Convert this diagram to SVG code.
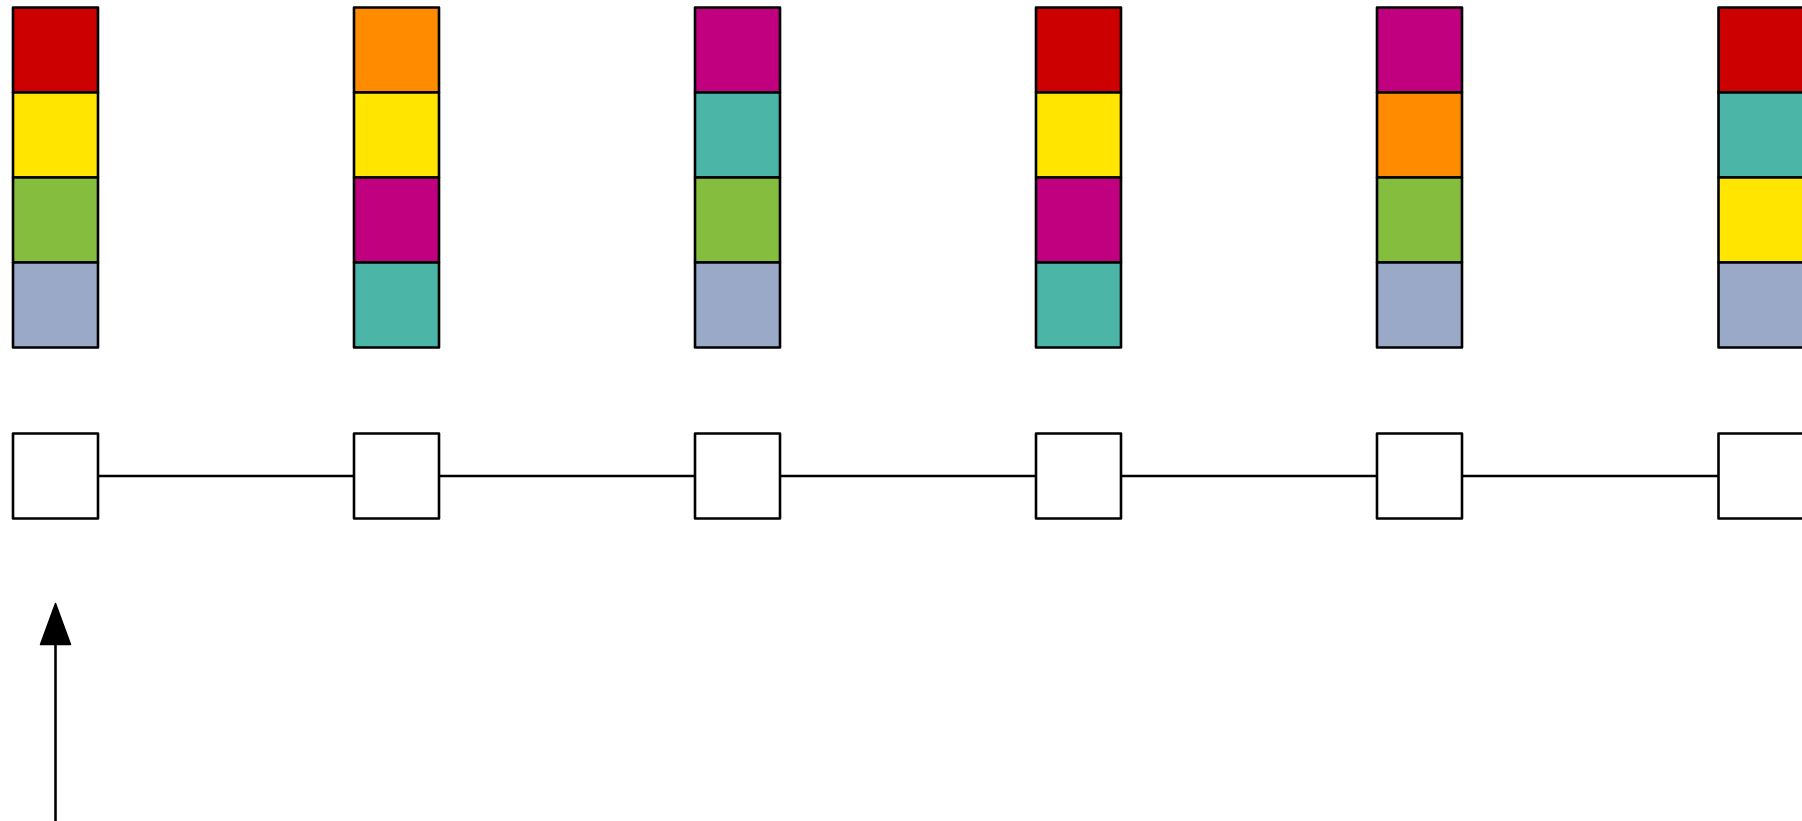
<svg xmlns="http://www.w3.org/2000/svg" width="1802" height="821" viewBox="0 0 1802 821">
<defs>
<style>
.c{stroke:#000;stroke-width:2.6;stroke-linejoin:round}
.r{fill:#CC0000}.y{fill:#FFE500}.g{fill:#85BE3F}.b{fill:#9AA9C8}.o{fill:#FF8C00}.m{fill:#C0007F}.t{fill:#4BB5A8}
.w{fill:#fff;stroke:#000;stroke-width:2.6;stroke-linejoin:round}
.l{stroke:#000;stroke-width:2.6;fill:none}
</style>
</defs>
<rect width="1802" height="821" fill="#fff"/>
<g id="connectors">
<line class="l" x1="98.5" y1="476" x2="354" y2="476"/>
<line class="l" x1="439.5" y1="476" x2="695" y2="476"/>
<line class="l" x1="780.5" y1="476" x2="1036" y2="476"/>
<line class="l" x1="1121.5" y1="476" x2="1377" y2="476"/>
<line class="l" x1="1462.5" y1="476" x2="1718" y2="476"/>
<line class="l" x1="55.5" y1="640" x2="55.5" y2="821"/>
<polygon points="55.5,603.5 40.5,644.5 70.5,644.5" fill="#000" stroke="#000" stroke-width="1.5" stroke-linejoin="round"/>
</g>
<g id="stack1">
<rect class="c r" x="13" y="7.5" width="85" height="85"/>
<rect class="c y" x="13" y="92.5" width="85" height="85"/>
<rect class="c g" x="13" y="177.5" width="85" height="85"/>
<rect class="c b" x="13" y="262.5" width="85" height="85"/>
</g>
<g id="stack2">
<rect class="c o" x="354" y="7.5" width="85" height="85"/>
<rect class="c y" x="354" y="92.5" width="85" height="85"/>
<rect class="c m" x="354" y="177.5" width="85" height="85"/>
<rect class="c t" x="354" y="262.5" width="85" height="85"/>
</g>
<g id="stack3">
<rect class="c m" x="695" y="7.5" width="85" height="85"/>
<rect class="c t" x="695" y="92.5" width="85" height="85"/>
<rect class="c g" x="695" y="177.5" width="85" height="85"/>
<rect class="c b" x="695" y="262.5" width="85" height="85"/>
</g>
<g id="stack4">
<rect class="c r" x="1036" y="7.5" width="85" height="85"/>
<rect class="c y" x="1036" y="92.5" width="85" height="85"/>
<rect class="c m" x="1036" y="177.5" width="85" height="85"/>
<rect class="c t" x="1036" y="262.5" width="85" height="85"/>
</g>
<g id="stack5">
<rect class="c m" x="1377" y="7.5" width="85" height="85"/>
<rect class="c o" x="1377" y="92.5" width="85" height="85"/>
<rect class="c g" x="1377" y="177.5" width="85" height="85"/>
<rect class="c b" x="1377" y="262.5" width="85" height="85"/>
</g>
<g id="stack6">
<rect class="c r" x="1718.5" y="7.5" width="85" height="85"/>
<rect class="c t" x="1718.5" y="92.5" width="85" height="85"/>
<rect class="c y" x="1718.5" y="177.5" width="85" height="85"/>
<rect class="c b" x="1718.5" y="262.5" width="85" height="85"/>
</g>
<g id="node1"><rect class="w" x="13" y="433.5" width="85" height="85"/></g>
<g id="node2"><rect class="w" x="354" y="433.5" width="85" height="85"/></g>
<g id="node3"><rect class="w" x="695" y="433.5" width="85" height="85"/></g>
<g id="node4"><rect class="w" x="1036" y="433.5" width="85" height="85"/></g>
<g id="node5"><rect class="w" x="1377" y="433.5" width="85" height="85"/></g>
<g id="node6"><rect class="w" x="1718.5" y="433.5" width="85" height="85"/></g>
</svg>
